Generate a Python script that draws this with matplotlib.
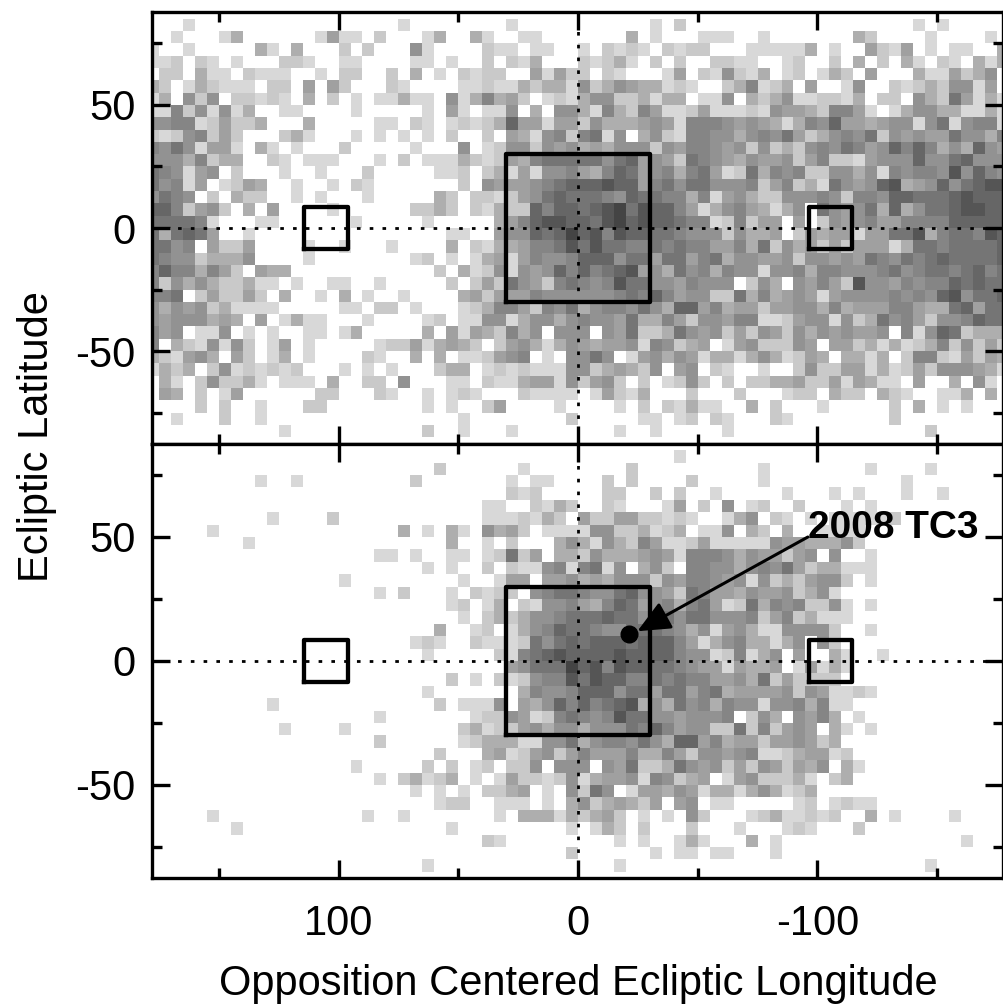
import matplotlib
matplotlib.use('Agg')
import matplotlib.pyplot as plt
from matplotlib.colors import ListedColormap, BoundaryNorm
import numpy as np

plt.rcParams['font.family'] = ['Liberation Sans', 'DejaVu Sans']
plt.rcParams['axes.unicode_minus'] = False

# shade level of every 5x5 degree cell, rows run from lat 90 down to -90,
# columns from lon 180 down to -180
upper_rows = [
    "000000000000 000000000000 000000000000 000000000000 000000000000 000000000000",
    "000100000000 000000000100 000000100000 000000102000 000000000000 000010100000",
    "001000130000 001411020001 300310011000 000030100011 100100000003 200001000010",
    "100100000310 300020200051 000021101100 102121021220 001111130100 421401011003",
    "112021010002 210011000011 010020213000 212310202002 211001200203 020310210313",
    "022031102111 001022002030 102122004142 202100014021 521301201320 400031142350",
    "320132111022 040420002100 001121132331 523543312100 236123040015 002123255140",
    "130525022121 030201011311 051363420121 355223133011 503235112213 022053274131",
    "116251513001 100001000001 041011503055 316326411241 112154432664 101355331131",
    "556612422300 030000011021 012123844144 253334541666 545431365844 345515715661",
    "212562420002 310001010101 020020431562 671503521665 535657423565 725454475536",
    "657514410310 100020000010 005012552545 343555254665 452523256576 458686353854",
    "555362330021 011100010201 113212436777 775784542765 435445246221 455585578555",
    "765145020001 001000200000 112023141556 436874563674 127365622553 516566595865",
    "756140124300 100102100000 002054445678 889884675775 556246231754 589345857899",
    "576502032200 101000100000 320221245787 776587766361 453225556526 658877789888",
    "886245203040 000100000022 320213228688 789a79886413 564313507545 738357789988",
    "777761000110 000001000001 000003468998 879a89887661 262440402545 644666688888",
    "737874001000 000000000000 01100455878a 896988776555 253340243441 447793677698",
    "775604224000 010010001000 030213346679 797766767664 463725342424 441377677778",
    "765523335000 010000000012 010134146556 888577477467 355445255454 765767877778",
    "686636420433 000000000000 203125154586 867894537563 655155636655 567567767867",
    "625353223110 100110010000 020242754267 656977554655 502530546429 554656687877",
    "667024224203 001030100100 003424446555 555676864552 273634541455 556565895778",
    "535452311110 000011022010 001236642657 356657538846 344244553634 446643378477",
    "545553430401 311000100001 201155135535 655473364255 466112455152 375642556877",
    "645011501010 011013000003 041432635055 505472237545 242542535454 450615872333",
    "603215152014 010000012241 343202453135 434451652340 145222540442 313123625242",
    "321453042013 010000210030 301124560105 575014535413 313531243033 130266214243",
    "132302512121 200010101000 233012121115 523432504502 100100252244 131242555431",
    "031025223101 110300220500 011021134415 245202012520 202233422414 311040030510",
    "043020140000 002200021001 012100021111 014213000200 020001220322 032100113030",
    "000020200100 022000000001 010024000010 000102021311 003020001000 002030101000",
    "001000200100 000000000000 001000000002 000001101202 100021000000 002000000000",
    "000000000001 000000000002 001000100000 000100100000 100000000000 000002000000",
    "000000000000 000000000000 000000000000 000000000000 000000000000 000000000000",
]
lower_rows = [
    "000000000000 000000000000 000000000000 000000000000 000000000000 000000000000",
    "000000000000 000000000000 000000000000 000000001000 000000000000 000000000000",
    "000000000000 000000000000 200000010000 000020000000 000100000000 100001000000",
    "000000000100 100000000020 000000101100 002020000200 000100000000 000100000000",
    "000000000000 000000000000 000000212000 002200202001 000001000101 000100100000",
    "000000000000 000000000000 000011002132 002100014020 501200200010 100000000000",
    "000000000010 000200000000 000011121320 422442212100 135021010111 112000000000",
    "000001000000 000000000301 031053420111 155223123011 503203001111 000000000000",
    "000000001000 000000000000 030010200035 315326411241 111154433352 000000000000",
    "000000000000 000000011010 011012724033 253334541666 535442450500 100000000000",
    "000000000000 000000000001 010020211561 671503520665 535657423311 100000000000",
    "000000000000 000010000000 001001440445 343555254665 451523245520 100000000000",
    "000000000000 000000010200 010212205677 655785542764 435445235100 000000000000",
    "000000000000 000000000000 012013021556 436874563674 127365622510 100000000000",
    "000000000000 000000000000 001023235567 778775675775 556246231110 000000000000",
    "000000000000 000000000000 300120135687 765577765351 453115555200 100000000000",
    "000000000000 000000000012 100211127578 788878886413 563313505200 000000000000",
    "000000000000 000000000001 000002167898 888988886551 261350400310 010000000000",
    "000000000000 000000000000 00000045777a 896988776544 143340141310 000000000000",
    "000000000000 000000000000 020102125669 798866767664 453724222200 000000000000",
    "000000000000 000000000001 000000036556 888577477467 344445254112 100000000000",
    "000000000010 000000000000 201115043586 867893537563 655155636110 000000000000",
    "000000000000 000000010000 000122541267 656977554555 602530546301 000000000000",
    "000000000001 000010000000 002312245355 355576864552 272624540310 100000000000",
    "000000000000 000000020000 001233311557 356657538846 344244542300 000000000000",
    "000000000000 000000000000 200034124524 644463364255 456112344120 000000000000",
    "000000000000 000001000002 020120225055 505472237545 242542435031 000000000000",
    "000000000000 000000010231 230101422125 134451652340 145222310230 000000000000",
    "000000000000 000000000010 101022340105 275014435413 313531230000 000000000000",
    "000000000000 000000000000 122001110103 523432404501 100000120121 100000000000",
    "000001000000 000000100100 000001033313 234201010520 001231121200 301000010000",
    "000000010000 000000000000 010000000001 013202000200 010001210002 000000000000",
    "000000000000 000000000000 000021000000 000101001310 003010000000 000000001000",
    "000000000000 000000000000 000000000002 000000101101 100010000000 000000000000",
    "000000000000 000000000001 000000000000 000100000000 000000000000 000001000000",
    "000000000000 000000000000 000000000000 000000000000 000000000000 000000000000",
]
shades = ['#ffffff', '#d8d8d8', '#c9c9c9', '#aeaeae', '#a0a0a0', '#929292',
          '#858585', '#757575', '#666666', '#555555', '#444444']

lon_edges = np.arange(180, -181, -5)
lat_edges = np.arange(90, -91, -5)
lon_ticks = [100, 0, -100]
lat_ticks = [50, 0, -50]
lon_minor = [150, 50, -50, -150]
lat_minor = [75, 25, -25, -75]
big_box = (30, -30, 30, -30)
small_boxes = [(114.5, 96, 8.5, -8.5), (-96.5, -114.5, 8.5, -8.5)]
tc3_lon = -21.3
tc3_lat = 11


def parse(rows):
    return np.array([[int(c, 16) for c in r.replace(' ', '')] for r in rows])


W, H = 1004.0, 1007.0
fig = plt.figure(figsize=(W / 100, H / 100), dpi=100)
ax1 = fig.add_axes([152 / W, 1 - 444 / H, 851 / W, 432 / H])
ax2 = fig.add_axes([152 / W, 1 - 878 / H, 851 / W, 434 / H])

cmap = ListedColormap(shades)
norm = BoundaryNorm(np.arange(-0.5, 11.5), cmap.N)

for ax, rows, ylim in [(ax1, upper_rows, (-87.8, 87.8)), (ax2, lower_rows, (-87.5, 87.5))]:
    ax.pcolormesh(lon_edges, lat_edges, parse(rows), cmap=cmap, norm=norm, antialiased=False, rasterized=True)
    ax.axhline(0, color='k', lw=2, ls=(0, (1.3, 3.3)), zorder=3)
    ax.axvline(0, color='k', lw=2, ls=(0, (1.3, 3.3)), zorder=3)
    x0, x1, y1, y0 = big_box
    ax.plot([x0, x1, x1, x0, x0], [y0, y0, y1, y1, y0], color='k', lw=3.1, zorder=4, solid_joinstyle='round')
    for x0, x1, y1, y0 in small_boxes:
        ax.plot([x0, x1, x1, x0, x0], [y0, y0, y1, y1, y0], color='k', lw=3.1, zorder=4, solid_joinstyle='round')
    ax.set_xlim(177.9, -177.5)
    ax.set_ylim(*ylim)
    ax.set_xticks(lon_ticks)
    ax.set_xticks(lon_minor, minor=True)
    ax.set_yticks(lat_ticks)
    ax.set_yticks(lat_minor, minor=True)
    ax.tick_params(which='major', direction='in', top=True, right=True, length=13, width=2.4, labelsize=30, pad=18.5)
    ax.tick_params(which='minor', direction='in', top=True, right=True, length=7, width=2.4)
    for s in ax.spines.values():
        s.set_linewidth(2.4)
        s.set_zorder(5)

ax1.tick_params(axis='x', which='both', labelbottom=False)
ax1.tick_params(axis='y', pad=12)
ax2.tick_params(axis='y', pad=12)
ax2.set_xticklabels(['100', '0', '-100'])

# the point and its label
ax2.plot(tc3_lon, tc3_lat, 'o', color='k', ms=12, zorder=6)
ax2.annotate('', xy=(tc3_lon - 3.5, tc3_lat + 1), xytext=(-96, 50),
             arrowprops=dict(arrowstyle='-|>,head_length=1.0,head_width=0.45', color='k', lw=2.2,
                             shrinkA=0, shrinkB=0, mutation_scale=20), zorder=6)
ax2.text(-96, 53.8, '2008 TC3', fontsize=28, fontweight='bold', ha='left', va='center', zorder=7)

fig.text(578 / W, 1 - 984 / H, 'Opposition Centered Ecliptic Longitude', fontsize=30, ha='center', va='center')
fig.text(37 / W, 1 - 437 / H, 'Ecliptic Latitude', fontsize=30, rotation=90, ha='center', va='center')

fig.savefig('out.png', dpi=100)
